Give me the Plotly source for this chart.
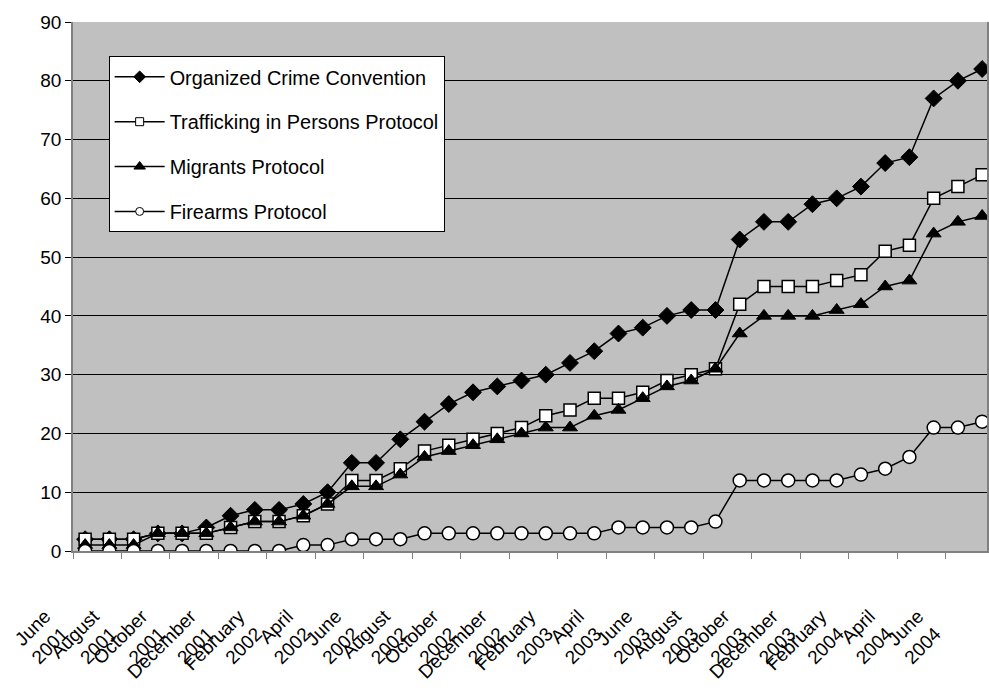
import plotly.graph_objects as go

months = ["June 2001", "July 2001", "August 2001", "September 2001", "October 2001", "November 2001",
          "December 2001", "January 2002", "February 2002", "March 2002", "April 2002", "May 2002",
          "June 2002", "July 2002", "August 2002", "September 2002", "October 2002", "November 2002",
          "December 2002", "January 2003", "February 2003", "March 2003", "April 2003", "May 2003",
          "June 2003", "July 2003", "August 2003", "September 2003", "October 2003", "November 2003",
          "December 2003", "January 2004", "February 2004", "March 2004", "April 2004", "May 2004",
          "June 2004", "July 2004"]

organized_crime = [2, 2, 2, 3, 3, 4, 6, 7, 7, 8, 10, 15, 15, 19, 22, 25, 27, 28, 29,
                   30, 32, 34, 37, 38, 40, 41, 41, 53, 56, 56, 59, 60, 62, 66, 67, 77, 80, 82]
trafficking = [2, 2, 2, 3, 3, 3, 4, 5, 5, 6, 8, 12, 12, 14, 17, 18, 19, 20, 21,
               23, 24, 26, 26, 27, 29, 30, 31, 42, 45, 45, 45, 46, 47, 51, 52, 60, 62, 64]
migrants = [1, 1, 1, 3, 3, 3, 4, 5, 5, 6, 8, 11, 11, 13, 16, 17, 18, 19, 20,
            21, 21, 23, 24, 26, 28, 29, 31, 37, 40, 40, 40, 41, 42, 45, 46, 54, 56, 57]
firearms = [0, 0, 0, 0, 0, 0, 0, 0, 0, 1, 1, 2, 2, 2, 3, 3, 3, 3, 3,
            3, 3, 3, 4, 4, 4, 4, 5, 12, 12, 12, 12, 12, 13, 14, 16, 21, 21, 22]

series_names = ["Organized Crime Convention", "Trafficking in Persons Protocol",
                "Migrants Protocol", "Firearms Protocol"]

x_idx = list(range(len(months)))
tick_idx = x_idx[::2]
tick_text = [m.replace(" ", "<br>") for m in months[::2]]

FONT = "Liberation Sans, Arial, sans-serif"

symbols = ["diamond", "square", "triangle-up", "circle"]
fills = ["black", "white", "black", "white"]
plot_sizes = [13, 12, 13, 13]
legend_sizes = [9, 8, 10, 8]

fig = go.Figure()
for i, (name, vals) in enumerate(zip(series_names, [organized_crime, trafficking, migrants, firearms])):
    fig.add_trace(go.Scatter(
        x=x_idx, y=vals, name=name, mode="lines+markers",
        line=dict(color="black", width=1.5),
        marker=dict(symbol=symbols[i], color=fills[i], size=plot_sizes[i],
                    line=dict(color="black", width=1.5 if fills[i] == "white" else 1)),
        showlegend=False,
    ))
for i, name in enumerate(series_names):
    fig.add_trace(go.Scatter(
        x=[None], y=[None], name=name, mode="lines+markers",
        line=dict(color="black", width=1.5),
        marker=dict(symbol=symbols[i], color=fills[i], size=legend_sizes[i],
                    line=dict(color="black", width=1)),
        legendgroup=f"g{i}", showlegend=True,
    ))

fig.update_layout(
    width=989, height=700,
    margin=dict(l=73, r=0, t=22, b=138),
    paper_bgcolor="white",
    plot_bgcolor="#C0C0C0",
    font=dict(family=FONT, size=19, color="black"),
    showlegend=True,
    legend=dict(
        x=0.039, y=0.935, xanchor="left", yanchor="top",
        bgcolor="white", bordercolor="black", borderwidth=1,
        font=dict(family=FONT, size=19.9, color="black"),
        itemwidth=50,
        tracegroupgap=16, traceorder="grouped",
    ),
    xaxis=dict(
        range=[-0.5, 37.2],
        tickmode="array", tickvals=tick_idx, ticktext=tick_text,
        tickangle=-45, ticks="", showgrid=False, zeroline=False,
        showline=True, linecolor="#808080", linewidth=1.5,
        tickfont=dict(family=FONT, size=19, color="black"),
        ticklabelstandoff=45, ticklabelshift=-40,
        minor=dict(ticks="outside", tick0=-0.5, dtick=2, ticklen=6,
                   tickcolor="#808080", showgrid=False),
    ),
    yaxis=dict(
        range=[0, 90], tickmode="linear", tick0=0, dtick=10,
        showgrid=True, gridcolor="black", gridwidth=1,
        zeroline=False, showline=True, linecolor="#808080", linewidth=1.5,
        mirror=True,
        ticks="outside", ticklen=6, tickcolor="black",
        tickfont=dict(family=FONT, size=19, color="black"),
    ),
)

fig.write_html("out.html", config={"displayModeBar": False},
               post_script="document.body.style.margin='0';")
